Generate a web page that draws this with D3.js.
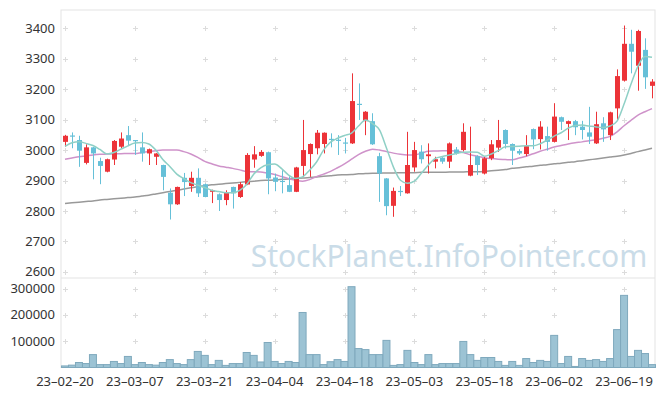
<!DOCTYPE html>
<html>
<head>
<meta charset="utf-8">
<script src="https://cdn.jsdelivr.net/npm/d3@7"></script>
<style>
  body { margin: 0; background: #fff; }
  svg { display: block; font-family: "Noto Sans", sans-serif; }
</style>
</head>
<body>
<svg width="665" height="396"></svg>
<script>
// trading days (yy-mm-dd)
var dates = [
  "23-02-20","23-02-21","23-02-22","23-02-23","23-02-24","23-02-27","23-02-28",
  "23-03-02","23-03-03","23-03-06","23-03-07","23-03-08","23-03-09","23-03-10","23-03-13","23-03-14","23-03-15","23-03-16","23-03-17","23-03-20","23-03-21","23-03-22","23-03-23","23-03-24","23-03-27","23-03-28","23-03-29","23-03-30","23-03-31",
  "23-04-03","23-04-04","23-04-05","23-04-06","23-04-07","23-04-10","23-04-11","23-04-12","23-04-13","23-04-14","23-04-17","23-04-18","23-04-19","23-04-20","23-04-21","23-04-24","23-04-25","23-04-26","23-04-27","23-04-28",
  "23-05-02","23-05-03","23-05-04","23-05-08","23-05-09","23-05-10","23-05-11","23-05-12","23-05-15","23-05-16","23-05-17","23-05-18","23-05-19","23-05-22","23-05-23","23-05-24","23-05-25","23-05-26","23-05-30","23-05-31",
  "23-06-01","23-06-02","23-06-05","23-06-07","23-06-08","23-06-09","23-06-12","23-06-13","23-06-14","23-06-15","23-06-16","23-06-19","23-06-20","23-06-21","23-06-22","23-06-23"
];

var open  = [3027,3048,3033,2958,3009,2964,2929,2969,3011,3049,3033,3009,2989,2978,2951,2860,2822,2909,2882,2909,2888,2863,2855,2836,2879,2846,2887,2969,2981,2993,2910,2899,2885,2863,2948,2987,3006,3020,3037,3034,3025,3022,3152,3095,3095,2980,2907,2817,2866,2858,2943,2995,2980,2962,2975,2962,3002,3000,2916,2980,2923,2973,3008,3066,3020,2997,2987,3069,3036,3046,3027,3108,3086,3095,3077,3058,3022,3088,3049,3137,3228,3349,3277,3329,3211];
var high  = [3050,3058,3047,3019,3010,2975,2972,3033,3058,3079,3033,3058,3005,2990,2952,2874,2880,2925,2929,2940,2890,2870,2858,2868,2880,2895,2990,3013,3000,2995,2923,2934,2914,2945,3099,3022,3066,3058,3055,3049,3040,3252,3219,3128,3121,2991,2908,2877,2882,3060,3027,3016,3022,2978,2977,3025,3010,3088,3077,2983,2977,3033,3099,3068,3022,3003,3049,3071,3095,3077,3154,3110,3097,3099,3096,3142,3126,3108,3126,3265,3409,3395,3395,3367,3233];
var low   = [3011,3006,2945,2953,2904,2888,2927,2951,3006,3013,2984,2962,2951,2951,2868,2772,2820,2849,2863,2846,2845,2826,2800,2819,2808,2843,2885,2942,2978,2855,2865,2858,2862,2862,2912,2912,2986,2989,3009,2984,2989,3020,3099,3049,3017,2830,2786,2781,2849,2857,2929,2956,2923,2940,2955,2941,2985,2995,2914,2918,2920,2967,2994,3005,2951,2984,2980,3003,3002,2998,3025,3066,3033,3049,3035,3020,3020,3027,3033,3099,3225,3252,3195,3201,3170];
var close = [3047,3045,2998,3009,2989,2948,2970,3030,3038,3031,3030,2989,3003,2989,2912,2822,2879,2895,2909,2858,2846,2868,2836,2860,2858,2888,2984,2986,2994,2907,2896,2897,2863,2943,3000,3020,3057,3057,3035,3032,3023,3161,3150,3126,3019,2923,2816,2866,2864,2951,3000,2970,2986,2970,2962,3022,2989,3060,2951,2951,2973,3019,3033,3020,2998,2989,3013,3035,3077,3027,3110,3093,3095,3075,3066,3044,3085,3068,3124,3243,3349,3323,3391,3239,3225];

var volume = [6000,9000,19000,15000,49000,11000,11000,23000,15000,42000,11000,19000,11000,9000,19000,30000,15000,11000,30000,61000,46000,11000,27000,8000,15000,15000,57000,46000,21000,95000,23000,15000,23000,19000,209000,49000,49000,11000,22000,30000,23000,307000,72000,68000,49000,49000,103000,8000,11000,65000,19000,11000,49000,11000,15000,15000,15000,99000,49000,27000,38000,38000,23000,8000,23000,8000,34000,19000,27000,23000,122000,15000,42000,4000,34000,27000,30000,23000,34000,144000,274000,42000,65000,53000,11000];

// moving averages
var ma5  = [3012,3024,3027,3022,3015,3002,2987,2992,3003,3014,3023,3025,3020,3000,2969,2946,2921,2906,2893,2885,2877,2868,2864,2860,2860,2868,2887,2921,2942,2952,2954,2939,2918,2907,2912,2934,2961,3000,3026,3039,3048,3056,3079,3099,3087,3066,3007,2944,2901,2891,2898,2924,2951,2973,2979,2984,2989,2993,2994,2993,2980,2987,2998,3011,3012,3013,3014,3014,3021,3033,3046,3057,3072,3081,3082,3079,3076,3074,3079,3095,3151,3217,3276,3307,3305];
var ma20 = [2970,2974,2978,2981,2984,2986,2987,2988,2988,2989,2989,2992,2995,2998,3000,3000,3000,2995,2987,2976,2963,2955,2948,2944,2940,2935,2930,2929,2928,2924,2920,2913,2906,2901,2898,2903,2913,2921,2930,2942,2955,2970,2985,2996,3003,3000,2995,2990,2986,2984,2984,2990,2996,2997,2998,2998,2997,2992,2985,2980,2975,2972,2970,2969,2968,2974,2980,2988,2996,3003,3010,3015,3020,3024,3027,3031,3034,3039,3045,3060,3080,3098,3115,3126,3136];
var ma60 = [2825,2827,2829,2831,2833,2836,2838,2840,2842,2844,2846,2849,2852,2856,2860,2864,2868,2872,2876,2880,2883,2886,2888,2890,2892,2894,2896,2898,2900,2901,2902,2904,2905,2907,2908,2910,2912,2914,2916,2918,2919,2920,2922,2923,2924,2924,2925,2925,2926,2926,2926,2927,2927,2927,2927,2928,2928,2928,2929,2929,2930,2932,2934,2936,2940,2942,2945,2947,2950,2952,2955,2957,2960,2962,2965,2968,2971,2974,2977,2980,2984,2989,2995,3000,3006];

var priceTicks = [2600,2700,2800,2900,3000,3100,3200,3300,3400];
var volumeTicks = [100000,200000,300000];
var labelEvery = 10;

var svg = d3.select("svg");
var left = 61, right = 655;
var pTop = 10, pBottom = 278, vBottom = 367.5;

var x = d3.scaleBand().domain(dates).range([left + 0.5, right + 0.5]);
var y = d3.scaleLinear().domain([2580, 3460]).range([pBottom, pTop]);
var yv = d3.scaleLinear().domain([0, 340000]).range([vBottom, pBottom]);
var cx = function(d){ return x(d) + x.bandwidth() / 2; };

// frame
var frame = svg.append("g").attr("stroke", "#e3e3e3").attr("fill", "none");
frame.append("rect").attr("x", left).attr("y", pTop).attr("width", right - left).attr("height", vBottom - pTop);
frame.append("line").attr("x1", left).attr("x2", right).attr("y1", pBottom).attr("y2", pBottom);

// cross marks at grid points
var tickDates = dates.filter(function(d, i){ return i % labelEvery == 0; });
var crosses = [];
tickDates.forEach(function(d){
  priceTicks.forEach(function(p){ crosses.push([cx(d), y(p)]); });
  volumeTicks.forEach(function(v){ crosses.push([cx(d), yv(v)]); });
});
svg.append("g").attr("stroke", "#dcdcdc").attr("stroke-width", 1)
  .selectAll("path").data(crosses).enter().append("path")
  .attr("d", function(c){ var a = Math.round(c[0]) + 0.5, b = Math.round(c[1]) + 0.5;
    return "M" + (a - 2.5) + "," + b + "H" + (a + 2.5) + "M" + a + "," + (b - 2.5) + "V" + (b + 2.5); });

// watermark
svg.append("text").attr("x", 449).attr("y", 267).attr("text-anchor", "middle")
  .attr("font-size", "30px").attr("fill", "#cadce8").text("StockPlanet.InfoPointer.com");

// volume bars
svg.append("g").selectAll("rect").data(dates).enter().append("rect")
  .attr("x", function(d){ return x(d); })
  .attr("y", function(d, i){ return yv(volume[i]); })
  .attr("width", x.bandwidth())
  .attr("height", function(d, i){ return vBottom - yv(volume[i]); })
  .attr("fill", "#9cc3d4").attr("stroke", "#7fa9bd").attr("stroke-width", 1);

// moving averages
var line = function(vals){
  return d3.line().x(function(d, i){ return cx(dates[i]); }).y(function(d){ return y(d); })
    .curve(d3.curveMonotoneX)(vals);
};
svg.append("path").attr("d", line(ma60)).attr("fill", "none").attr("stroke", "#999").attr("stroke-width", 1.5);
svg.append("path").attr("d", line(ma20)).attr("fill", "none").attr("stroke", "#cf93ca").attr("stroke-width", 1.5);

// candles
var upColor = "#ec3338", downColor = "#66c0d8";
var candles = svg.append("g").selectAll("g").data(dates).enter().append("g");
candles.append("line")
  .attr("x1", function(d){ return Math.round(cx(d)) + 0.5; })
  .attr("x2", function(d){ return Math.round(cx(d)) + 0.5; })
  .attr("y1", function(d, i){ return y(high[i]); })
  .attr("y2", function(d, i){ return y(low[i]); })
  .attr("stroke", function(d, i){ return close[i] >= open[i] ? upColor : downColor; });
candles.append("rect")
  .attr("x", function(d){ return Math.round(cx(d)) + 0.5 - 2.5; })
  .attr("y", function(d, i){ return y(Math.max(open[i], close[i])); })
  .attr("width", 5)
  .attr("height", function(d, i){ return Math.max(1.2, Math.abs(y(open[i]) - y(close[i]))); })
  .attr("fill", function(d, i){ return close[i] >= open[i] ? upColor : downColor; });

svg.append("path").attr("d", line(ma5)).attr("fill", "none").attr("stroke", "#8fd0c6").attr("stroke-width", 1.5);

// axes labels
var txt = svg.append("g").attr("fill", "#333").attr("font-size", "13px");
txt.selectAll(".py").data(priceTicks).enter().append("text")
  .attr("x", 55).attr("y", function(d){ return y(d); }).attr("dy", "0.35em")
  .attr("text-anchor", "end").text(function(d){ return d; });
txt.selectAll(".vy").data(volumeTicks).enter().append("text")
  .attr("x", 55).attr("y", function(d){ return yv(d); }).attr("dy", "0.35em")
  .attr("text-anchor", "end").text(function(d){ return d; });
txt.selectAll(".dx").data(tickDates).enter().append("text")
  .attr("x", function(d){ return cx(d); }).attr("y", 386)
  .attr("text-anchor", "middle").text(function(d){ return d.replace(/-/g, "\u2013"); });
</script>
</body>
</html>
